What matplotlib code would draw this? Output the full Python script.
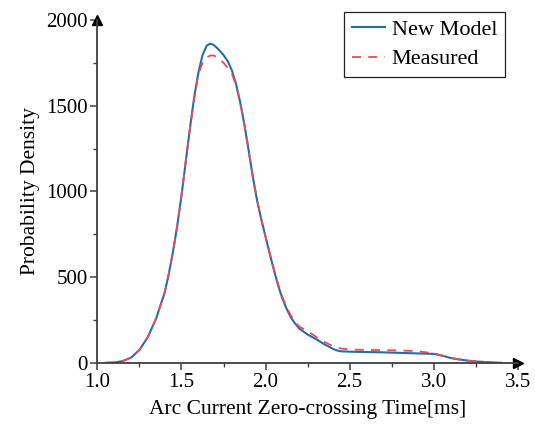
import matplotlib
matplotlib.use('Agg')
import matplotlib.pyplot as plt

# Arc current zero-crossing time distribution
t_model = [1.05, 1.10, 1.15, 1.20, 1.25, 1.30, 1.35, 1.40, 1.425, 1.45,
           1.475, 1.50, 1.525, 1.55, 1.575, 1.60, 1.625, 1.65, 1.67, 1.69,
           1.71, 1.73, 1.75, 1.775, 1.80, 1.825, 1.85, 1.875, 1.90, 1.925,
           1.95, 1.975, 2.00, 2.025, 2.05, 2.075, 2.10, 2.125, 2.15, 2.175,
           2.20, 2.25, 2.30, 2.35, 2.40, 2.425, 2.45, 2.50, 2.60, 2.70,
           2.80, 2.90, 3.00, 3.05, 3.10, 3.15, 3.20, 3.25, 3.30, 3.35, 3.40]
pd_model = [0, 2, 10, 30, 75, 150, 260, 410, 520, 650,
            800, 975, 1170, 1365, 1545, 1690, 1795, 1850, 1862, 1855,
            1838, 1818, 1795, 1760, 1705, 1625, 1515, 1385, 1235, 1080,
            945, 835, 735, 635, 540, 450, 375, 315, 265, 230,
            200, 165, 138, 108, 82, 72, 67, 65, 63, 61,
            58, 55, 52, 42, 28, 20, 13, 8, 5, 2, 0]

t_meas = [1.05, 1.10, 1.15, 1.20, 1.25, 1.30, 1.35, 1.40, 1.425, 1.45,
          1.475, 1.50, 1.525, 1.55, 1.575, 1.60, 1.625, 1.65, 1.67, 1.69,
          1.71, 1.73, 1.75, 1.775, 1.80, 1.825, 1.85, 1.875, 1.90, 1.925,
          1.95, 1.975, 2.00, 2.025, 2.05, 2.075, 2.10, 2.125, 2.15, 2.175,
          2.20, 2.25, 2.30, 2.35, 2.40, 2.45, 2.50, 2.60, 2.70, 2.80,
          2.90, 2.95, 3.00, 3.05, 3.10, 3.15, 3.20, 3.25, 3.30, 3.35, 3.40]
pd_meas = [0, 2, 10, 30, 75, 150, 260, 410, 520, 650,
           800, 975, 1170, 1365, 1540, 1680, 1750, 1780, 1792, 1793,
           1785, 1770, 1750, 1720, 1685, 1620, 1515, 1385, 1235, 1080,
           945, 835, 735, 640, 545, 458, 385, 325, 277, 240,
           212, 185, 152, 122, 97, 83, 78, 75, 74, 72,
           68, 62, 55, 42, 28, 20, 13, 8, 5, 2, 0]

plt.rcParams['font.family'] = ['Liberation Serif', 'DejaVu Serif']

fig = plt.figure(figsize=(5.35, 4.34), dpi=100)
ax = fig.add_axes([0.182, 0.164, 0.786, 0.79])

ax.plot(t_model, pd_model, color='#1f6fae', lw=1.5, label='New Model')
ax.plot(t_meas, pd_meas, color='#ef4a50', lw=1.3, ls=(0, (5, 4)), label='Measured')

ax.set_xlim(1.0, 3.5)
ax.set_ylim(0, 2000)
ax.set_xticks([1.0, 1.5, 2.0, 2.5, 3.0, 3.5])
ax.set_xticks([1.25, 1.75, 2.25, 2.75, 3.25], minor=True)
ax.set_yticks([0, 500, 1000, 1500, 2000])
ax.set_yticks([250, 750, 1250, 1750], minor=True)
ax.set_xticklabels(['1.0', '1.5', '2.0', '2.5', '3.0', '3.5'])

for s in ['top', 'right']:
    ax.spines[s].set_visible(False)
for s in ['left', 'bottom']:
    ax.spines[s].set_color('#404040')
    ax.spines[s].set_linewidth(1.3)

ax.tick_params(which='major', direction='out', length=5, width=1.1,
               color='#404040', labelsize=15, pad=2)
ax.tick_params(which='minor', direction='out', length=3, width=1.0, color='#404040')

# arrow heads at the end of each axis
ax.plot(1, 0, '>', color='black', ms=7, transform=ax.transAxes, clip_on=False)
ax.plot(0, 1, '^', color='black', ms=7, transform=ax.transAxes, clip_on=False)

ax.set_xlabel('Arc Current Zero-crossing Time[ms]', fontsize=15.5, labelpad=6)
ax.set_ylabel('Probability Density', fontsize=15.5, labelpad=4)

leg = ax.legend(loc='upper right', bbox_to_anchor=(0.944, 0.973),
                bbox_transform=fig.transFigure, fontsize=16, fancybox=False,
                framealpha=1, edgecolor='#222222', borderpad=0.35,
                handlelength=1.5, handletextpad=0.3, labelspacing=0.4,
                borderaxespad=0)
leg.get_frame().set_linewidth(0.9)

plt.savefig('out.png', dpi=100)
plt.close()
